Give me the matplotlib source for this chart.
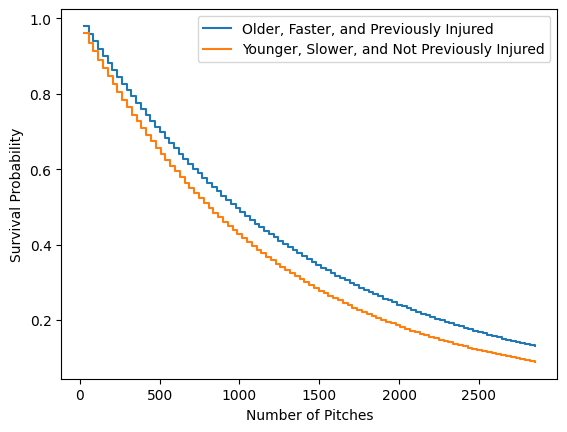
import numpy as np
import matplotlib
matplotlib.use("Agg")
import matplotlib.pyplot as plt

older = [0.980,0.959,0.939,0.920,0.900,0.881,0.863,0.845,0.827,0.810,0.793,0.776,0.760,0.744,0.728,0.713,0.698,0.683,0.669,0.655,0.641,0.628,0.614,0.601,0.589,0.576,0.564,0.552,0.541,0.529,0.518,0.507,0.497,0.486,0.476,0.466,0.456,0.447,0.437,0.428,0.419,0.410,0.402,0.393,0.385,0.377,0.369,0.361,0.354,0.346,0.339,0.332,0.325,0.318,0.311,0.305,0.298,0.292,0.286,0.280,0.274,0.268,0.263,0.257,0.252,0.247,0.241,0.236,0.231,0.227,0.222,0.217,0.213,0.208,0.204,0.199,0.195,0.191,0.187,0.183,0.179,0.176,0.172,0.168,0.165,0.161,0.158,0.155,0.151,0.148,0.145,0.142,0.139,0.136,0.133,0.130]
younger = [0.960,0.936,0.913,0.890,0.868,0.846,0.825,0.804,0.784,0.765,0.745,0.727,0.709,0.691,0.674,0.657,0.640,0.624,0.609,0.594,0.579,0.564,0.550,0.537,0.523,0.510,0.498,0.485,0.473,0.461,0.450,0.439,0.428,0.417,0.407,0.396,0.387,0.377,0.368,0.358,0.349,0.341,0.332,0.324,0.316,0.308,0.300,0.293,0.286,0.278,0.272,0.265,0.258,0.252,0.245,0.239,0.233,0.227,0.222,0.216,0.211,0.206,0.200,0.195,0.191,0.186,0.181,0.177,0.172,0.168,0.164,0.160,0.156,0.152,0.148,0.144,0.141,0.137,0.134,0.131,0.127,0.124,0.121,0.118,0.115,0.112,0.109,0.107,0.104,0.101,0.099,0.096,0.094,0.092,0.089]

x1 = np.linspace(25, 2850, len(older))
x2 = np.linspace(25, 2850, len(younger))

plt.figure(figsize=(6.4, 4.8), dpi=100)
plt.step(x1, older, where="post", label="Older, Faster, and Previously Injured")
plt.step(x2, younger, where="post", label="Younger, Slower, and Not Previously Injured")
plt.xlabel("Number of Pitches")
plt.ylabel("Survival Probability")
plt.legend()
plt.savefig("out.png", bbox_inches="tight")
